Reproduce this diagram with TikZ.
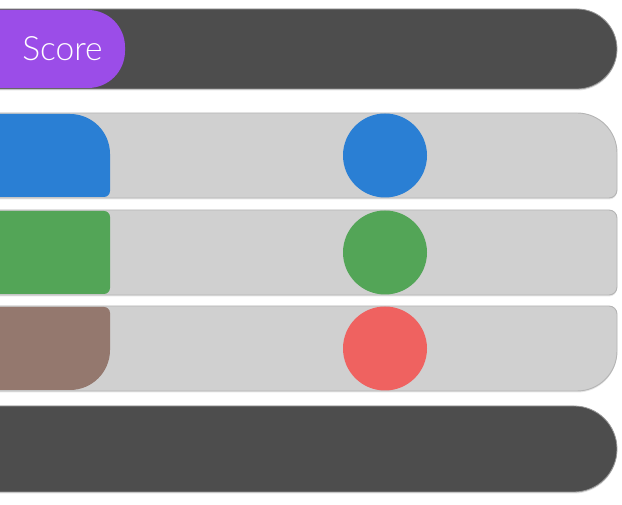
\documentclass[tikz,border=0pt]{standalone}
\usepackage{fontspec}
\newfontfamily\scorefont{Lato Light}
\usepackage{xcolor}
\usetikzlibrary{
    shapes,
    positioning,
    shadows,
    calc
}
\definecolor{barDark}{HTML}{4D4D4D}
\definecolor{barLight}{HTML}{D0D0D0}
\definecolor{barEdge}{HTML}{B4B4B4}
\definecolor{tabPurple}{HTML}{9B4DE8}
\definecolor{rowBlue}{HTML}{2A7FD4}
\definecolor{rowGreen}{HTML}{53A557}
\definecolor{rowBrown}{HTML}{94786E}
\definecolor{dotRed}{HTML}{EF6260}

\begin{document}
\begin{tikzpicture}[x=1pt, y=1pt, darkbar/.style={
            % The filling
            fill=barDark,
            % The border
            draw=gray!80, line width=.8pt,
            % The shadow
            drop shadow={shadow xshift=0pt, shadow yshift=-1.5pt, opacity=.25}},
        lightbar/.style={
            fill=barLight,
            draw=barEdge, line width=.9pt,
            drop shadow={shadow xshift=0pt, shadow yshift=-1.5pt, opacity=.2}},
        dot/.style={circle, minimum size=84pt, inner sep=0pt}]
        \useasboundingbox (0,0) rectangle (622,505);
        % score bar
        \path [darkbar] (-2,416) -- (577,416) arc [start angle=-90, end angle=90, radius=40] -- (-2,496) -- cycle;
        \fill [tabPurple] (0,417) -- (88,417) arc [start angle=-90, end angle=0, radius=37]
          -- (125,458) arc [start angle=0, end angle=90, radius=37] -- (0,495) -- cycle;
        \node [text=white, font=\scorefont\fontsize{33.5}{33.5}\selectfont] (score) at (62.5,456.5) {Score};
        % rows
        \foreach \y/\a/\b/\ta/\tb/\tab/\col/\name in {307/40/8/40/6/rowBlue/rowBlue/dotA,
            210/8/8/6/6/rowGreen/rowGreen/dotB, 114/8/40/6/40/rowBrown/dotRed/dotC}{
          \path [lightbar] (-2,\y) -- (617 - \b,\y) arc [start angle=-90, end angle=0, radius=\b]
            -- (617,\y + 85 - \a) arc [start angle=0, end angle=90, radius=\a] -- (-2,\y + 85) -- cycle;
          \fill [\tab] (0,\y + 1) -- (110 - \tb,\y + 1) arc [start angle=-90, end angle=0, radius=\tb]
            -- (110,\y + 84 - \ta) arc [start angle=0, end angle=90, radius=\ta] -- (0,\y + 84) -- cycle;
          \node [dot, fill=\col] (\name) at (385,\y + 42.5) {};
        }
        % bottom bar
        \path [darkbar] (-2,13) -- (574,13) arc [start angle=-90, end angle=90, radius=43] -- (-2,99) -- cycle;
\end{tikzpicture}
\end{document}
